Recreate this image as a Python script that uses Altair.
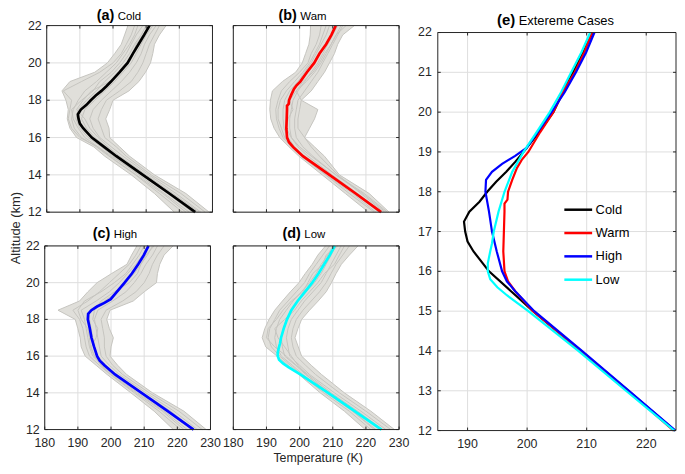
import altair as alt
import pandas as pd

FONT = "Liberation Sans"

# ---------------- data ----------------
ALT_LEVELS = [12, 13, 14, 15, 15.5, 16, 16.5, 17, 17.5, 18, 18.5, 19, 19.5, 20, 20.5, 21, 21.5, 22]

GRAY_A = [
    [218.5, 212.5, 205.5, 197.5, 194.2, 189.0, 187.0, 186.2, 186.5, 185.8, 184.6, 187.0, 194.5, 198.3, 200.5, 202.5, 203.5, 204.5],
    [221.0, 214.0, 206.8, 198.8, 195.0, 190.5, 188.3, 187.5, 188.0, 189.5, 191.5, 195.0, 198.0, 201.0, 203.0, 205.0, 206.5, 207.5],
    [223.0, 215.5, 207.8, 200.0, 196.5, 192.5, 190.0, 188.8, 189.5, 192.0, 195.0, 197.5, 200.5, 203.0, 205.0, 206.5, 208.5, 210.0],
    [225.5, 217.5, 209.5, 201.5, 198.0, 194.5, 192.0, 190.5, 191.5, 194.5, 197.5, 200.5, 203.0, 205.5, 207.0, 208.5, 210.0, 212.0],
    [226.5, 219.0, 210.8, 203.0, 199.5, 196.0, 194.0, 193.0, 194.0, 196.5, 199.5, 202.5, 205.0, 207.0, 208.5, 209.5, 211.0, 213.0],
    [227.8, 220.5, 211.5, 204.0, 201.0, 197.5, 196.5, 195.5, 196.5, 198.0, 202.0, 205.5, 207.5, 209.0, 210.0, 211.0, 212.5, 214.0],
    [229.0, 222.0, 212.5, 205.0, 202.0, 199.0, 198.8, 197.8, 199.0, 200.0, 204.8, 207.8, 209.8, 211.3, 212.0, 212.5, 214.0, 216.0],
    [224.0, 216.5, 208.5, 199.5, 195.5, 190.0, 187.5, 186.5, 187.0, 187.5, 185.0, 190.5, 196.0, 200.0, 202.5, 204.0, 205.5, 206.5],
    [226.0, 218.0, 210.0, 202.0, 198.5, 195.5, 193.0, 191.5, 189.0, 191.0, 193.5, 199.0, 201.5, 204.0, 206.0, 207.0, 209.0, 211.0],
    [222.0, 215.0, 207.0, 199.0, 195.5, 191.5, 189.5, 188.0, 187.5, 190.5, 194.0, 196.0, 199.5, 202.0, 204.0, 205.5, 207.0, 209.0],
]
GRAY_B = [
    [220.8, 213.8, 206.8, 199.8, 196.8, 194.0, 192.3, 191.3, 191.0, 191.2, 191.8, 194.8, 198.8, 200.8, 201.8, 202.8, 203.2, 203.3],
    [222.5, 215.0, 207.8, 200.5, 197.5, 195.0, 193.8, 193.0, 192.8, 193.5, 194.5, 197.0, 200.0, 202.5, 203.5, 205.0, 206.0, 206.5],
    [224.0, 216.5, 208.8, 201.5, 198.5, 196.5, 195.3, 195.0, 195.0, 195.5, 197.0, 199.5, 201.5, 203.5, 205.0, 206.5, 208.0, 209.0],
    [225.0, 217.5, 209.8, 202.5, 199.5, 197.5, 197.0, 197.0, 197.5, 198.0, 199.5, 201.5, 203.5, 205.5, 207.0, 208.5, 210.0, 211.5],
    [226.0, 219.0, 210.8, 204.0, 201.0, 199.0, 198.5, 198.5, 199.0, 199.5, 201.5, 203.5, 205.5, 207.0, 208.5, 210.0, 211.5, 213.0],
    [227.0, 221.0, 212.0, 207.5, 204.5, 201.5, 199.5, 199.5, 200.0, 200.5, 203.5, 205.5, 207.5, 209.0, 210.5, 211.5, 213.0, 216.5],
    [225.5, 218.5, 211.5, 206.0, 203.5, 201.5, 203.0, 204.5, 205.5, 200.5, 199.0, 202.0, 204.5, 206.5, 208.0, 209.5, 211.0, 214.0],
    [223.0, 216.0, 208.0, 201.0, 197.8, 195.5, 194.5, 193.5, 193.5, 194.2, 196.0, 198.5, 201.0, 203.0, 204.5, 206.0, 207.0, 208.0],
    [226.5, 219.5, 211.0, 203.5, 200.0, 197.5, 196.0, 196.5, 198.0, 197.0, 199.0, 201.0, 204.0, 206.0, 207.5, 209.5, 211.0, 212.5],
]
GRAY_C = [
    [218.8, 213.0, 206.0, 198.8, 195.5, 192.2, 191.0, 190.7, 190.0, 189.2, 184.0, 190.5, 193.0, 195.8, 200.2, 204.8, 206.2, 207.8],
    [221.0, 214.5, 207.0, 199.8, 196.5, 193.5, 192.5, 192.0, 191.5, 190.5, 188.5, 193.0, 196.5, 199.5, 202.5, 205.5, 207.5, 209.0],
    [223.0, 216.0, 208.0, 200.5, 197.3, 194.5, 193.5, 193.0, 192.5, 192.0, 191.0, 195.5, 199.5, 202.5, 205.0, 207.5, 209.5, 211.0],
    [224.5, 217.5, 209.0, 201.5, 198.5, 196.0, 195.0, 194.5, 194.0, 193.5, 193.5, 198.0, 202.0, 204.5, 207.0, 209.0, 211.0, 212.5],
    [226.0, 219.0, 210.5, 202.5, 199.5, 197.0, 196.5, 196.0, 195.5, 195.0, 196.0, 200.5, 204.5, 207.0, 209.0, 210.5, 212.5, 214.0],
    [227.5, 220.5, 211.5, 203.5, 200.5, 198.5, 198.0, 198.0, 197.5, 197.0, 198.5, 203.5, 207.5, 210.0, 211.5, 212.5, 214.0, 216.0],
    [228.7, 222.0, 212.5, 204.7, 202.0, 199.7, 200.0, 200.7, 199.5, 198.7, 199.7, 206.7, 210.0, 213.7, 214.0, 214.7, 216.0, 218.7],
    [225.0, 218.0, 209.5, 201.0, 197.8, 195.0, 193.8, 193.5, 193.0, 191.0, 190.0, 192.0, 197.0, 201.0, 204.5, 206.5, 208.5, 210.0],
    [222.0, 215.5, 207.5, 200.0, 197.0, 195.0, 194.0, 195.5, 196.0, 194.5, 195.0, 197.0, 201.0, 205.5, 208.0, 209.0, 210.5, 213.0],
]
GRAY_D = [
    [219.8, 213.5, 206.2, 199.8, 196.5, 193.2, 189.8, 188.7, 189.5, 190.8, 192.5, 194.8, 197.2, 199.8, 201.7, 203.8, 205.5, 207.8],
    [221.5, 215.0, 207.3, 200.5, 197.2, 194.0, 191.5, 190.5, 191.0, 192.5, 194.0, 196.5, 199.0, 201.5, 203.0, 205.0, 207.0, 209.0],
    [223.0, 216.0, 208.0, 201.0, 197.8, 194.5, 193.0, 192.5, 193.0, 194.0, 196.0, 198.0, 200.5, 203.0, 205.0, 206.5, 208.5, 210.0],
    [224.5, 217.0, 209.0, 201.8, 198.8, 195.5, 194.8, 194.5, 195.0, 196.0, 197.5, 199.5, 202.0, 204.5, 206.5, 208.0, 209.5, 211.0],
    [226.0, 218.5, 210.5, 203.0, 200.0, 197.0, 196.5, 196.0, 196.5, 197.5, 199.5, 201.5, 204.0, 206.5, 208.0, 209.5, 211.0, 212.5],
    [227.5, 220.0, 212.0, 204.8, 201.8, 199.0, 198.0, 197.5, 198.0, 199.0, 201.0, 203.5, 206.0, 208.0, 209.5, 211.0, 213.0, 215.0],
    [228.6, 221.5, 213.5, 206.6, 203.5, 200.6, 199.6, 198.6, 199.5, 200.6, 203.0, 205.6, 208.0, 209.6, 211.0, 212.6, 215.0, 217.6],
    [225.0, 217.5, 209.5, 202.5, 199.0, 196.0, 192.5, 190.0, 190.5, 193.0, 195.0, 197.5, 201.0, 202.5, 204.0, 207.0, 208.0, 211.5],
    [222.5, 216.0, 208.5, 202.0, 199.5, 197.5, 195.5, 193.5, 192.5, 195.5, 198.5, 200.5, 203.0, 205.5, 207.5, 210.5, 212.0, 213.5],
]

COLD_ALT = [12, 13, 14, 15, 15.5, 16, 16.5, 16.75, 17, 17.25, 17.5, 17.75, 18, 18.25, 18.5, 18.75, 19, 19.5, 20, 20.5, 21, 21.5, 22]
COLD_T = [224.8, 217.0, 209.0, 201.0, 197.3, 193.6, 191.0, 190.0, 189.6, 189.4, 190.3, 192.0, 193.3, 194.8, 196.5, 198.0, 199.4, 202.0, 204.4, 206.0, 207.7, 209.4, 211.0]

WARM_ALT = [12, 13, 14, 15, 15.5, 15.75, 16, 16.5, 17, 17.5, 17.7, 17.8, 18, 18.3, 18.6, 18.8, 19, 19.5, 20, 20.5, 21, 21.5, 22]
WARM_T = [224.6, 216.9, 209.0, 201.0, 198.0, 196.8, 196.2, 196.0, 196.1, 196.2, 196.2, 196.7, 196.8, 197.5, 198.3, 199.1, 200.2, 202.2, 204.4, 206.0, 208.0, 209.6, 210.9]

HIGH_ALT = [12, 13, 14, 15, 15.5, 15.75, 16, 16.5, 17, 17.5, 18, 18.3, 18.5, 18.7, 18.9, 19.1, 19.4, 19.7, 20, 20.5, 21, 21.5, 22]
HIGH_T = [224.9, 217.1, 209.2, 201.2, 198.0, 196.6, 195.8, 194.9, 194.1, 193.6, 193.0, 193.1, 194.1, 195.8, 198.0, 199.9, 201.3, 202.7, 204.1, 206.3, 208.2, 209.9, 211.3]

LOW_ALT = [12, 13, 14, 15, 15.4, 15.6, 15.8, 16, 16.2, 16.5, 16.7, 17, 17.5, 18, 18.5, 19, 19.5, 20, 20.5, 21, 21.5, 22]
LOW_T = [224.7, 216.6, 208.6, 200.2, 196.6, 195.0, 193.8, 193.4, 193.4, 193.8, 194.1, 194.4, 195.2, 196.2, 197.5, 199.4, 201.6, 203.8, 205.7, 207.4, 209.1, 210.6]

CASES = ["Cold", "Warm", "High", "Low"]
COLORS = ["#000000", "#ff0000", "#0000ff", "#00ffff"]
LETTERS = ["(a)", "(b)", "(c)", "(d)", "(e)"]
NAMES = ["Cold", "Wam", "High", "Low", "Extereme Cases"]
X_TITLE = ["Temperature (K)"]
Y_TITLE = ["Altitude (km)"]

X_TICKS_SMALL = [180, 190, 200, 210, 220, 230]
Y_TICKS_SMALL = [12, 14, 16, 18, 20, 22]
X_TICKS_E = [190, 200, 210, 220]
Y_TICKS_E = [12, 13, 14, 15, 16, 17, 18, 19, 20, 21, 22]

# ---------------- styles / layout (page pixels) ----------------
M = 8  # page margin
GRAY_LINE = "#c6c5c0"
GRAY_FILL = "#e0dfda"
GRID = "#dedede"
AXC = "#262626"
TICK_FS = 12.5

LAYOUT = {
    "a": dict(x0=47, x1=214, y0=24, y1=212, tx=115, ty=18),
    "b": dict(x0=235, x1=402, y0=24, y1=212, tx=299, ty=18),
    "c": dict(x0=45, x1=212, y0=246, y1=431, tx=111, ty=238.5),
    "d": dict(x0=235, x1=402, y0=246, y1=431, tx=303, ty=238.5),
    "e": dict(x0=441, x1=681, y0=31, y1=432, tx=519, ty=23),
}


def panel_layers(key, xdom, xticks, yticks, xlabels, ylabels, letter, name,
                 gray=None, mean=None, ecases=None, title_size=(14.5, 11.5)):
    L = LAYOUT[key]
    xs = alt.Scale(domain=xdom, range=[L["x0"] - M, L["x1"] - M], nice=False, zero=False)
    ys = alt.Scale(domain=[12, 22], range=[L["y1"] - M, L["y0"] - M], nice=False, zero=False)
    xt = pd.DataFrame({"v": xticks})
    yt = pd.DataFrame({"v": yticks})
    xmin, xmax = xdom
    layers = []
    # grid
    layers.append(alt.Chart(xt).mark_rule(color=GRID, strokeWidth=1).encode(
        x=alt.X("v:Q", scale=xs, axis=None),
        y=alt.YDatum(12, scale=ys, axis=None), y2=alt.datum(22)))
    layers.append(alt.Chart(yt).mark_rule(color=GRID, strokeWidth=1).encode(
        y=alt.Y("v:Q", scale=ys, axis=None),
        x=alt.XDatum(xmin, scale=xs, axis=None), x2=alt.datum(xmax)))
    # gray profiles
    if gray is not None:
        rows = []
        for i, line in enumerate(gray):
            for a, t in zip(ALT_LEVELS, line):
                rows.append({"id": i, "alt": a, "T": t})
        gdf = pd.DataFrame(rows)
        layers.append(alt.Chart(gdf).transform_aggregate(
            lo="min(T)", hi="max(T)", groupby=["alt"]
        ).mark_area(orient="horizontal", color=GRAY_FILL).encode(
            y=alt.Y("alt:Q", scale=ys, axis=None),
            x=alt.X("lo:Q", scale=xs, axis=None), x2="hi:Q"))
        layers.append(alt.Chart(gdf).mark_line(color=GRAY_LINE, strokeWidth=1).encode(
            x=alt.X("T:Q", scale=xs, axis=None),
            y=alt.Y("alt:Q", scale=ys, axis=None),
            detail="id:N", order="alt:Q"))
    if mean is not None:
        m_alt, m_t, color = mean
        mdf = pd.DataFrame({"alt": m_alt, "T": m_t})
        layers.append(alt.Chart(mdf).mark_line(color=color, strokeWidth=2.7).encode(
            x=alt.X("T:Q", scale=xs, axis=None),
            y=alt.Y("alt:Q", scale=ys, axis=None),
            order="alt:Q"))
    if ecases is not None:
        layers.append(alt.Chart(ecases).mark_line(strokeWidth=2.2).encode(
            x=alt.X("T:Q", scale=xs, axis=None),
            y=alt.Y("alt:Q", scale=ys, axis=None),
            color=alt.Color("case:N", scale=alt.Scale(domain=CASES, range=COLORS),
                            legend=alt.Legend(title=None, orient="none",
                                              legendX=566, legendY=193, padding=0,
                                              symbolType="M-2,0L2,0", symbolSize=196,
                                              symbolStrokeWidth=2.5, labelFont=FONT,
                                              labelFontSize=13, labelColor="black",
                                              labelOffset=9, rowPadding=7.5)),
            order="alt:Q"))
    # inward ticks
    layers.append(alt.Chart(xt).mark_rule(color=AXC, strokeWidth=1, y2Offset=-3).encode(
        x=alt.X("v:Q", scale=xs, axis=None), y=alt.YDatum(12, axis=None), y2=alt.datum(12)))
    layers.append(alt.Chart(xt).mark_rule(color=AXC, strokeWidth=1, y2Offset=3).encode(
        x=alt.X("v:Q", scale=xs, axis=None), y=alt.YDatum(22, axis=None), y2=alt.datum(22)))
    layers.append(alt.Chart(yt).mark_rule(color=AXC, strokeWidth=1, x2Offset=3).encode(
        y=alt.Y("v:Q", scale=ys, axis=None), x=alt.XDatum(xmin, axis=None), x2=alt.datum(xmin)))
    layers.append(alt.Chart(yt).mark_rule(color=AXC, strokeWidth=1, x2Offset=-3).encode(
        y=alt.Y("v:Q", scale=ys, axis=None), x=alt.XDatum(xmax, axis=None), x2=alt.datum(xmax)))
    # box
    layers.append(alt.Chart(pd.DataFrame({"k": [0]})).mark_rect(
        filled=False, color=AXC, strokeWidth=1).encode(
        x=alt.XDatum(xmin, axis=None), x2=alt.datum(xmax),
        y=alt.YDatum(12, axis=None), y2=alt.datum(22)))
    # tick labels
    if xlabels:
        layers.append(alt.Chart(xt).mark_text(
            font=FONT, fontSize=TICK_FS, color=AXC, align="center", baseline="alphabetic", dy=18
        ).encode(x=alt.X("v:Q", scale=xs, axis=None), y=alt.YDatum(12, axis=None),
                 text=alt.Text("v:Q", format="d")))
    if ylabels:
        layers.append(alt.Chart(yt).mark_text(
            font=FONT, fontSize=TICK_FS, color=AXC, align="right", baseline="middle",
            dx=-(5 if key != "e" else 6)
        ).encode(y=alt.Y("v:Q", scale=ys, axis=None), x=alt.XDatum(xmin, axis=None),
                 text=alt.Text("v:Q", format="d")))
    # panel title
    layers.append(alt.Chart(pd.DataFrame({"t": [letter]})).mark_text(
        font=FONT, fontSize=title_size[0], fontWeight="bold", color="black",
        align="right", baseline="alphabetic"
    ).encode(text="t:N", x=alt.value(L["tx"] - M), y=alt.value(L["ty"] - M)))
    layers.append(alt.Chart(pd.DataFrame({"t": [name]})).mark_text(
        font=FONT, fontSize=title_size[1], color="black",
        align="left", baseline="alphabetic"
    ).encode(text="t:N", x=alt.value(L["tx"] - M + 3.5), y=alt.value(L["ty"] - M)))
    return alt.layer(*layers)


pa = panel_layers("a", [180, 230], X_TICKS_SMALL, Y_TICKS_SMALL, False, True, LETTERS[0], NAMES[0],
                  gray=GRAY_A, mean=(COLD_ALT, COLD_T, COLORS[0]))
pb = panel_layers("b", [180, 230], X_TICKS_SMALL, Y_TICKS_SMALL, False, False, LETTERS[1], NAMES[1],
                  gray=GRAY_B, mean=(WARM_ALT, WARM_T, COLORS[1]))
pc = panel_layers("c", [180, 230], X_TICKS_SMALL, Y_TICKS_SMALL, True, True, LETTERS[2], NAMES[2],
                  gray=GRAY_C, mean=(HIGH_ALT, HIGH_T, COLORS[2]))
pdd = panel_layers("d", [180, 230], X_TICKS_SMALL, Y_TICKS_SMALL, True, False, LETTERS[3], NAMES[3],
                   gray=GRAY_D, mean=(LOW_ALT, LOW_T, COLORS[3]))

erows = []
for case, a_list, t_list in zip(CASES, [COLD_ALT, WARM_ALT, HIGH_ALT, LOW_ALT], [COLD_T, WARM_T, HIGH_T, LOW_T]):
    for a, t in zip(a_list, t_list):
        erows.append({"case": case, "alt": a, "T": t})
edf = pd.DataFrame(erows)
pe = panel_layers("e", [185, 225], X_TICKS_E, Y_TICKS_E, True, True, LETTERS[4], NAMES[4],
                  ecases=edf, title_size=(15, 13))

xtitle = alt.Chart(pd.DataFrame({"t": X_TITLE})).mark_text(
    font=FONT, fontSize=12.5, color=AXC, align="center", baseline="alphabetic"
).encode(text="t:N", x=alt.value(320.5 - M), y=alt.value(463.5 - M))
ytitle = alt.Chart(pd.DataFrame({"t": Y_TITLE})).mark_text(
    font=FONT, fontSize=13, color=AXC, align="center", baseline="middle", angle=270
).encode(text="t:N", x=alt.value(16.5 - M), y=alt.value(228 - M))

chart = alt.layer(pa, pb, pc, pdd, pe, xtitle, ytitle).resolve_scale(
    x="independent", y="independent"
).properties(
    width=674, height=458,
    autosize=alt.AutoSizeParams(type="none"),
    padding=0,
    background="white",
).configure_view(stroke=None)

chart.save("out.html", embed_options={"renderer": "svg", "actions": False})
